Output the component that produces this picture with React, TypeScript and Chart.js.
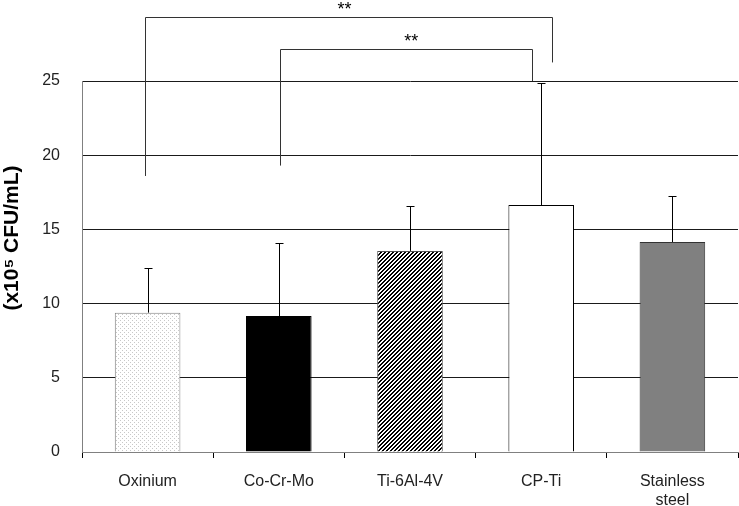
import React, { useEffect, useRef } from 'react';
import { Chart, registerables } from 'chart.js';

Chart.register(...registerables);

const categories: (string | string[])[] = ['Oxinium', 'Co-Cr-Mo', 'Ti-6Al-4V', 'CP-Ti', ['Stainless', 'steel']];
const means = [9.39, 9.16, 13.55, 16.64, 14.15];
const errorsUp = [2.99, 4.9, 3.03, 8.25, 3.1];
const yTickValues = [0, 5, 10, 15, 20, 25];
const yTitle = '(x10\u2075 CFU/mL)';

// significance brackets (category units / data units)
const bracketFrom = [-0.02, 1.01];
const bracketTo = [3.08, 2.93];
const bracketTop = [29.3, 27.15];
const bracketLeftEnd = [18.6, 19.3];
const bracketRightEnd = [26.25, 25.0];
const bracketLabelX = [1.5, 2.01];
const bracketLabels = ['**', '**'];

const FONT = '"Liberation Sans", Arial, Helvetica, sans-serif';

function makePattern(kind: 'dots' | 'hatch'): CanvasPattern | string {
  const c = document.createElement('canvas');
  c.width = 4;
  c.height = 4;
  const g = c.getContext('2d');
  if (!g) return '#fff';
  g.fillStyle = '#ffffff';
  g.fillRect(0, 0, 4, 4);
  if (kind === 'dots') {
    g.fillStyle = '#c8c8c8';
    g.fillRect(0, 0, 1, 1);
    g.fillRect(2, 2, 1, 1);
  } else {
    g.fillStyle = '#000000';
    for (let x = 0; x < 4; x++) {
      for (let y = 0; y < 4; y++) {
        if ((x + y) % 4 < 2) g.fillRect(x, y, 1, 1);
      }
    }
  }
  const p = g.createPattern(c, 'repeat');
  return p || '#fff';
}

export default function App() {
  const ref = useRef<HTMLCanvasElement | null>(null);

  useEffect(() => {
    if (!ref.current) return;
    const fills = [makePattern('dots'), '#000000', makePattern('hatch'), '#ffffff', '#808080'];
    const borders = ['#808080', '#000000', '#555555', '#000000', '#333333'];

    const overlay = {
      id: 'overlay',
      afterDatasetsDraw(chart: any) {
        const ctx = chart.ctx as CanvasRenderingContext2D;
        const xs = chart.scales.x;
        const ys = chart.scales.y;
        const meta = chart.getDatasetMeta(0);
        ctx.save();
        // error bars (upper only)
        ctx.strokeStyle = '#000';
        ctx.lineWidth = 1;
        meta.data.forEach((bar: any, i: number) => {
          const x = Math.round(bar.x) + 0.5;
          const yTop = ys.getPixelForValue(means[i]);
          const yCap = Math.round(ys.getPixelForValue(means[i] + errorsUp[i])) + 0.5;
          ctx.beginPath();
          ctx.moveTo(x, yTop);
          ctx.lineTo(x, yCap);
          ctx.moveTo(x - 4, yCap);
          ctx.lineTo(x + 4, yCap);
          ctx.stroke();
        });
        // significance brackets
        ctx.strokeStyle = '#333';
        bracketFrom.forEach((f, i) => {
          const x1 = Math.round(xs.getPixelForValue(f)) + 0.5;
          const x2 = Math.round(xs.getPixelForValue(bracketTo[i])) + 0.5;
          const yt = Math.round(ys.getPixelForValue(bracketTop[i])) + 0.5;
          const yl = ys.getPixelForValue(bracketLeftEnd[i]);
          const yr = ys.getPixelForValue(bracketRightEnd[i]);
          ctx.beginPath();
          ctx.moveTo(x1, yl);
          ctx.lineTo(x1, yt);
          ctx.lineTo(x2, yt);
          ctx.lineTo(x2, yr);
          ctx.stroke();
          ctx.fillStyle = '#000';
          ctx.font = `18px ${FONT}`;
          ctx.textAlign = 'center';
          ctx.textBaseline = 'alphabetic';
          ctx.fillText(bracketLabels[i], xs.getPixelForValue(bracketLabelX[i]), yt - 3);
        });
        // y-axis title
        ctx.translate(12, 238);
        ctx.rotate(-Math.PI / 2);
        ctx.font = `bold 21px ${FONT}`;
        ctx.fillStyle = '#000';
        ctx.textAlign = 'center';
        ctx.textBaseline = 'middle';
        ctx.fillText(yTitle, 0, 0);
        ctx.restore();
      },
    };

    const chart = new Chart(ref.current, {
      type: 'bar',
      data: {
        labels: categories as any,
        datasets: [
          {
            data: means,
            backgroundColor: fills as any,
            borderColor: borders,
            borderWidth: 1,
            barPercentage: 0.5,
            categoryPercentage: 1.0,
          },
        ],
      },
      options: {
        animation: false,
        responsive: true,
        maintainAspectRatio: false,
        layout: { padding: { top: 81, right: 1, left: 0, bottom: 0 } },
        plugins: { legend: { display: false }, tooltip: { enabled: false } },
        scales: {
          x: {
            offset: true,
            afterFit: (s: any) => {
              s.height = 54;
            },
            grid: {
              display: true,
              offset: true,
              drawOnChartArea: false,
              drawTicks: true,
              tickLength: 6,
              color: '#000',
            },
            border: { display: true, color: '#808080' },
            ticks: {
              color: '#222',
              font: { family: FONT, size: 16 },
              padding: 14,
              maxRotation: 0,
              autoSkip: false,
            },
          },
          y: {
            min: 0,
            max: 25,
            afterFit: (s: any) => {
              s.width = 82;
              s.paddingTop = 0;
              s.paddingBottom = 0;
            },
            afterBuildTicks: (s: any) => {
              s.ticks = yTickValues.map((v) => ({ value: v }));
            },
            grid: {
              drawTicks: false,
              color: (c: any) => (c.tick && c.tick.value === 0 ? '#808080' : '#1a1a1a'),
            },
            border: { display: true, color: '#808080' },
            ticks: {
              color: '#222',
              font: { family: FONT, size: 16 },
              padding: 22,
            },
          },
        },
      },
      plugins: [overlay],
    });
    return () => chart.destroy();
  }, []);

  return (
    <div style={{ position: 'fixed', left: 0, top: 0, width: 739, height: 506, background: '#fff' }}>
      <canvas ref={ref} />
    </div>
  );
}
